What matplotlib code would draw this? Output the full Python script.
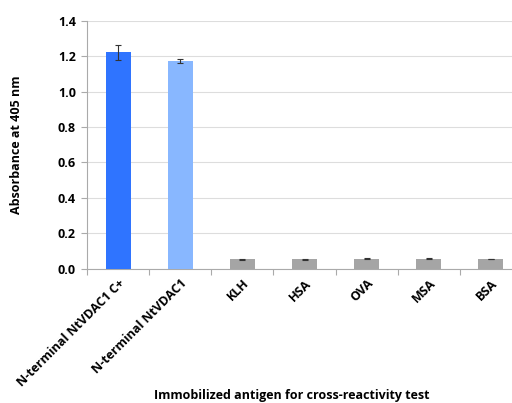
import matplotlib
matplotlib.use("Agg")
import matplotlib.pyplot as plt
import numpy as np

categories = ["N-terminal NtVDAC1 C+", "N-terminal NtVDAC1", "KLH", "HSA", "OVA", "MSA", "BSA"]
values = [1.222, 1.175, 0.053, 0.053, 0.056, 0.055, 0.054]
errors = [0.040, 0.012, 0.003, 0.003, 0.003, 0.003, 0.002]
colors = ["#2F74FF", "#88B7FF", "#A5A5A5", "#A5A5A5", "#A5A5A5", "#A5A5A5", "#A5A5A5"]
yticks = [0.0, 0.2, 0.4, 0.6, 0.8, 1.0, 1.2, 1.4]

plt.rcParams["font.family"] = ["Open Sans", "DejaVu Sans"]
plt.rcParams["font.weight"] = "bold"

W, H = 512, 403
fig = plt.figure(figsize=(W / 100, H / 100), dpi=100)
left, right, top, bottom = 87, 522, 21, 268.5
ax = fig.add_axes([left / W, 1 - bottom / H, (right - left) / W, (bottom - top) / H])

x = np.arange(len(categories))
ax.bar(x, values, width=0.4, color=colors, zorder=3,
       yerr=errors, error_kw=dict(ecolor="#333333", elinewidth=0.8, capsize=2.5, capthick=0.8, zorder=4))

ax.set_xlim(-0.5, len(categories) - 0.5)
ax.set_ylim(0, 1.4)
ax.set_yticks(yticks)
ax.set_yticklabels([f"{v:.1f}" for v in yticks], fontsize=9, fontweight="bold")
ax.yaxis.grid(True, color="#DDDDDD", linewidth=0.8, zorder=0)
ax.set_axisbelow(True)

ax.set_xticks(x)
ax.set_xticklabels(categories, rotation=45, ha="right", rotation_mode="anchor",
                   fontsize=9, fontweight="bold")
ax.tick_params(axis="x", length=0, pad=6)
ax.set_xticks(np.arange(len(categories) + 1) - 0.5, minor=True)
ax.tick_params(axis="x", which="minor", length=4, color="#AAAAAA", width=0.8)
ax.tick_params(axis="y", length=4, color="#AAAAAA", width=0.8, pad=4)

for s in ["top", "right"]:
    ax.spines[s].set_visible(False)
for s in ["left", "bottom"]:
    ax.spines[s].set_color("#AAAAAA")
    ax.spines[s].set_linewidth(0.8)

fig.text(17 / W, 1 - 145 / H, "Absorbance at 405 nm", rotation=90, ha="center", va="center",
         fontsize=9, fontweight="bold")
fig.text(292 / W, 1 - 395 / H, "Immobilized antigen for cross-reactivity test", ha="center", va="center",
         fontsize=9, fontweight="bold")

fig.savefig("out.png", dpi=100)
